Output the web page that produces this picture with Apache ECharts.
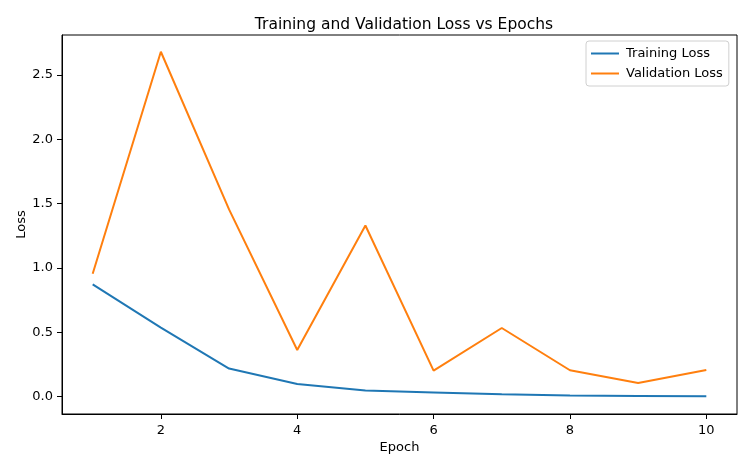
<!DOCTYPE html>
<html><head><meta charset="utf-8">
<script src="https://cdn.jsdelivr.net/npm/echarts@6/dist/echarts.min.js"></script>
<style>html,body{margin:0;padding:0;background:#fff}#c{width:750px;height:469px}</style>
</head><body><div id="c"></div>
<script>
const epochs = [1,2,3,4,5,6,7,8,9,10];
const trainingLoss = [0.873,0.537,0.219,0.099,0.048,0.033,0.019,0.010,0.006,0.003];
const validationLoss = [0.956,2.68,1.455,0.363,1.33,0.203,0.534,0.206,0.107,0.208];
const xTicks = [2,4,6,8,10];
const yTicks = [0,0.5,1.0,1.5,2.0,2.5];
const font = 'DejaVu Sans';
const chart = echarts.init(document.getElementById('c'), null, {renderer:'canvas'});
chart.setOption({
  animation:false,
  backgroundColor:'#fff',
  title:{text:'Training and Validation Loss vs Epochs',left:399,top:12,textAlign:'center',
    textStyle:{fontFamily:font,fontSize:15.5,fontWeight:'normal',color:'#000'}},
  grid:{left:62,right:13,top:35,bottom:55,show:true,borderColor:'#000',borderWidth:1,backgroundColor:'transparent'},
  legend:{orient:'vertical',left:586,top:41,padding:[6,6,6,5],itemGap:7,itemWidth:28,itemHeight:2,
    icon:'rect',backgroundColor:'#fff',borderColor:'#d0d0d0',borderWidth:1,borderRadius:3,
    textStyle:{fontFamily:font,fontSize:13,color:'#000',padding:[0,0,0,2]},
    data:['Training Loss','Validation Loss']},
  xAxis:{type:'value',min:0.55,max:10.45,
    name:'Epoch',nameLocation:'middle',nameGap:27,nameMoveOverlap:false,nameTextStyle:{fontFamily:font,fontSize:13,color:'#000'},
    axisLine:{show:true,onZero:false,lineStyle:{color:'#000',width:1}},
    axisTick:{show:true,length:5,lineStyle:{color:'#000'},customValues:xTicks},
    axisLabel:{fontFamily:font,fontSize:13,color:'#000',margin:10,customValues:xTicks,formatter:v=>String(v)},
    splitLine:{show:false}},
  yAxis:{type:'value',min:-0.134,max:2.81,
    name:'Loss',nameLocation:'middle',nameGap:34,nameMoveOverlap:false,nameTextStyle:{fontFamily:font,fontSize:13,color:'#000'},
    axisLine:{show:true,onZero:false,lineStyle:{color:'#000',width:1}},
    axisTick:{show:true,length:5,lineStyle:{color:'#000'},customValues:yTicks},
    axisLabel:{fontFamily:font,fontSize:13,color:'#000',margin:9,customValues:yTicks,formatter:v=>v.toFixed(1)},
    splitLine:{show:false}},
  series:[
    {name:'Training Loss',type:'line',data:epochs.map((e,i)=>[e,trainingLoss[i]]),showSymbol:false,symbol:'none',
      lineStyle:{color:'#1f77b4',width:2},itemStyle:{color:'#1f77b4'}},
    {name:'Validation Loss',type:'line',data:epochs.map((e,i)=>[e,validationLoss[i]]),showSymbol:false,symbol:'none',
      lineStyle:{color:'#ff7f0e',width:2},itemStyle:{color:'#ff7f0e'}}
  ]
});
</script></body></html>
